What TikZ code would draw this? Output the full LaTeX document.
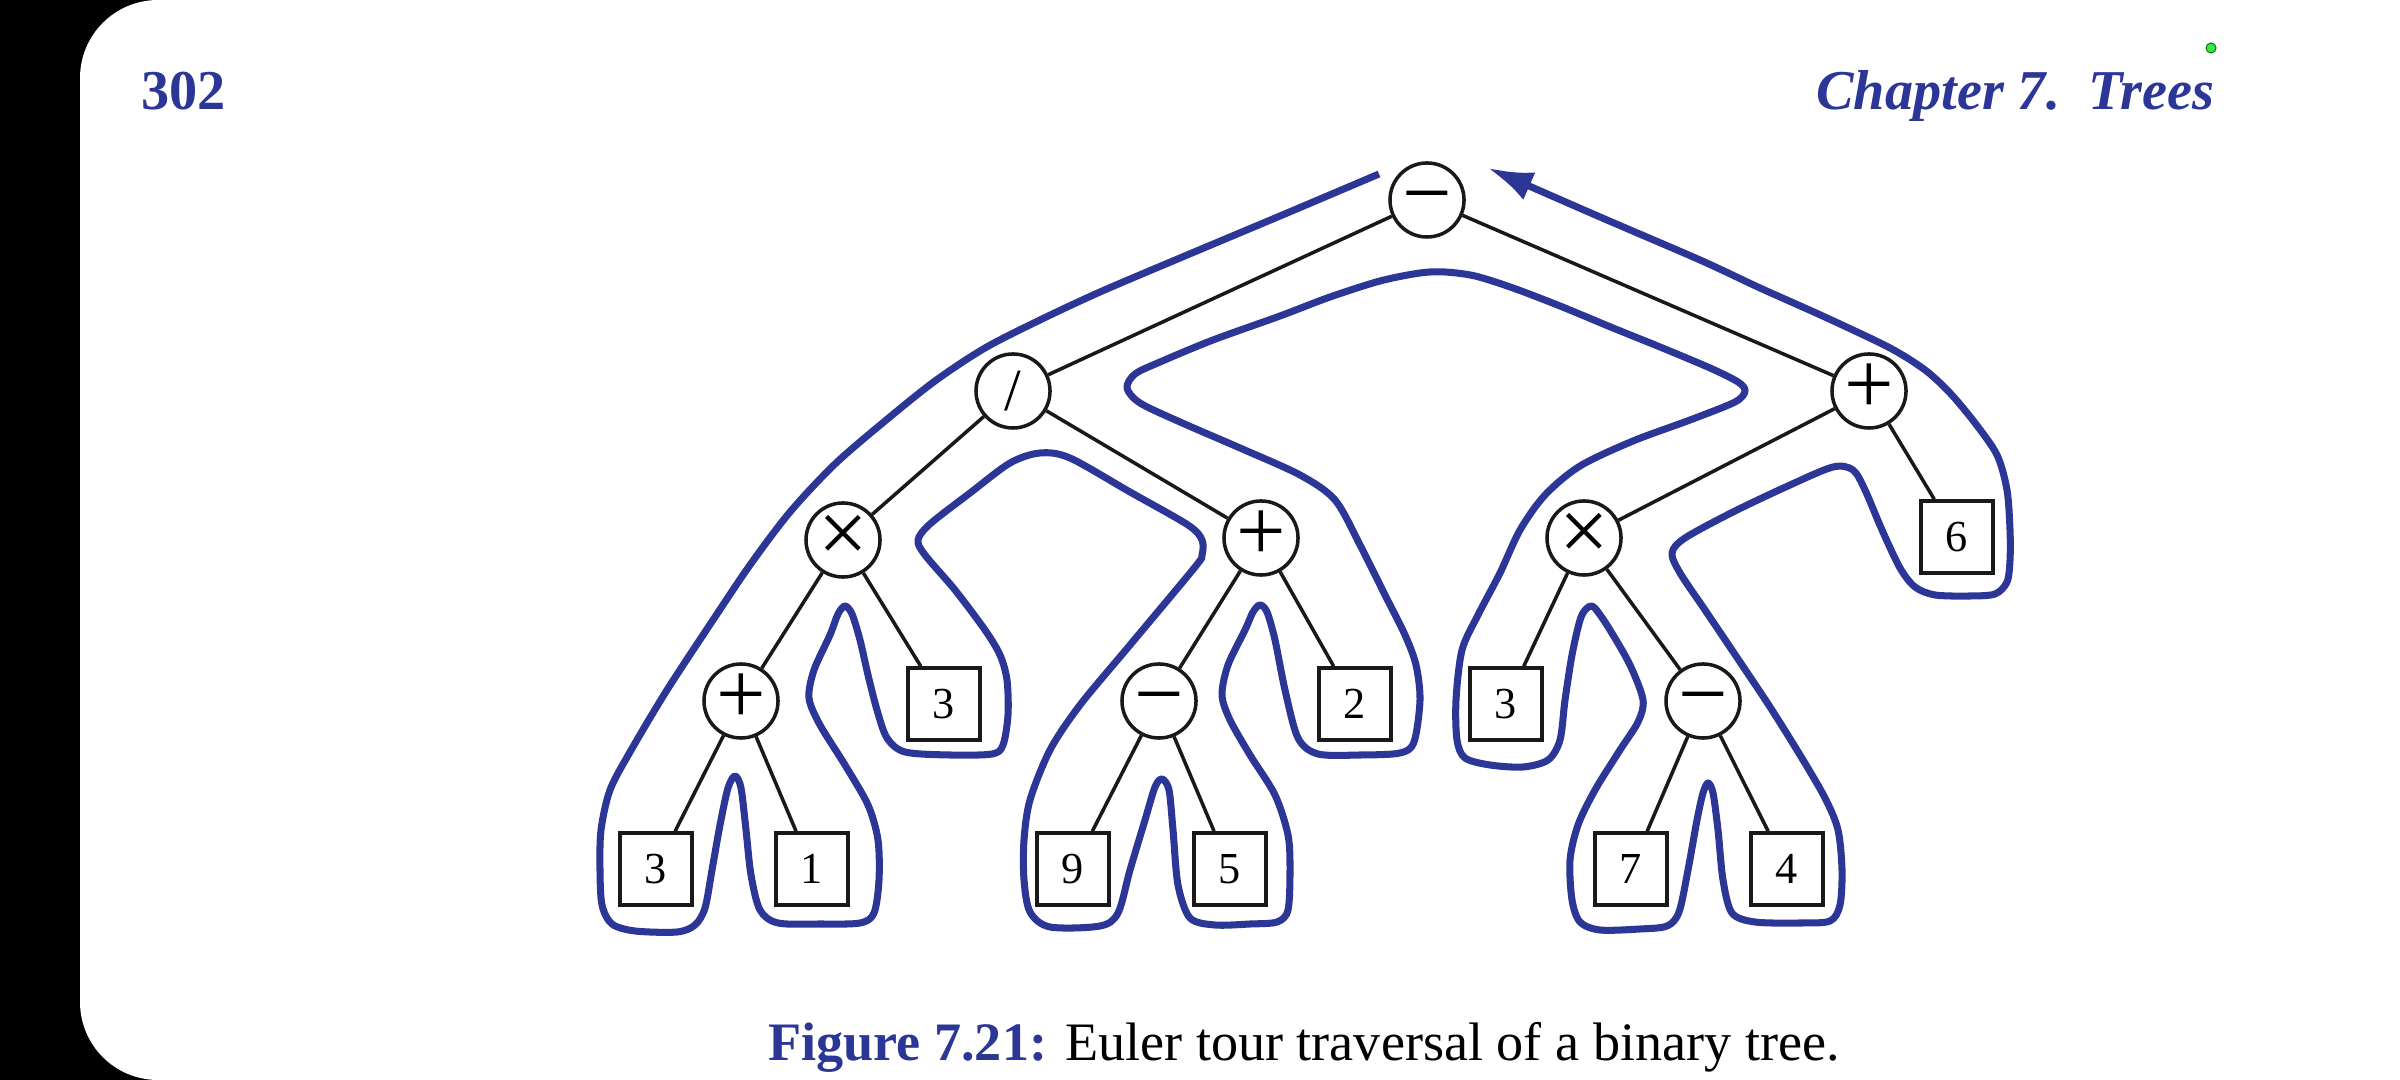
\documentclass[tikz,border=0pt]{standalone}
\usepackage{fontspec}
\setmainfont{Liberation Serif}
\usetikzlibrary{arrows.meta}
\definecolor{tourblue}{RGB}{43,54,150}
\definecolor{inkblack}{RGB}{25,25,25}
\definecolor{dotgreen}{RGB}{60,230,70}
\newcommand{\opfont}{\fontsize{25}{25}\selectfont}
\newcommand{\slashfont}{\fontsize{17}{17}\selectfont}
\newcommand{\leaffont}{\fontsize{12.6}{12.6}\selectfont}
\tikzset{
  opnode/.style={circle, draw=inkblack, fill=white, line width=1pt,
    minimum size=0.74cm, inner sep=0pt, font=\opfont,
    text height=12.6pt, text depth=0pt},
  slashnode/.style={opnode, font=\slashfont, text height=11.2pt},
  leafnode/.style={rectangle, draw=inkblack, fill=white, line width=1pt,
    minimum size=0.72cm, inner sep=0pt, font=\leaffont,
    text height=8.5pt, text depth=0pt},
  branch/.style={line width=1pt, color=inkblack},
  tour/.style={line width=2pt, color=tourblue, line join=round},
  hdr/.style={font=\fontsize{16}{16}\selectfont\bfseries, text=tourblue, inner sep=0pt}
}

\begin{document}
\begin{tikzpicture}[x=0.01cm, y=-0.01cm]
  % Page frame
  \useasboundingbox (0,0) rectangle (2400,1080);
  \fill[black] (0,0) rectangle (2400,1080);
  \fill[white, rounded corners=0.78cm] (2500,0) -- (80,0) -- (80,1080) -- (2500,1080) -- cycle;

  % Running head
  \node[hdr, anchor=base west] (pageno) at (141,110) {302};
  \node[hdr, anchor=base east] (chapter) at (2215,110) {\itshape Chapter 7.\ \ Trees};
  \fill[dotgreen, draw=green!50!black, line width=0.3pt] (2211,48) circle (5);

  % Tree nodes
  \node[opnode] (nroot) at (1427,200) {−};
  \node[slashnode] (ndiv) at (1013,391) {/};
  \node[opnode] (nplusR) at (1869,391) {+};
  \node[opnode] (ntimesL) at (843,540) {×};
  \node[opnode] (nplusM) at (1261,538) {+};
  \node[opnode] (ntimesR) at (1584,538) {×};
  \node[leafnode] (nsix) at (1957,537) {6};
  \node[opnode] (nplusL) at (741,701) {+};
  \node[leafnode] (nthreeA) at (944,704) {3};
  \node[opnode] (nminusM) at (1159,701) {−};
  \node[leafnode] (ntwo) at (1355,704) {2};
  \node[leafnode] (nthreeB) at (1506,704) {3};
  \node[opnode] (nminusR) at (1703,701) {−};
  \node[leafnode] (nthreeC) at (656,869) {3};
  \node[leafnode] (none) at (812,869) {1};
  \node[leafnode] (nnine) at (1073,869) {9};
  \node[leafnode] (nfive) at (1230,869) {5};
  \node[leafnode] (nseven) at (1631,869) {7};
  \node[leafnode] (nfour) at (1787,869) {4};

  % Branches
  \draw[branch] (nroot) -- (ndiv);
  \draw[branch] (nroot) -- (nplusR);
  \draw[branch] (ndiv) -- (ntimesL);
  \draw[branch] (ndiv) -- (nplusM);
  \draw[branch] (nplusR) -- (ntimesR);
  \draw[branch] (nplusR) -- (nsix);
  \draw[branch] (ntimesL) -- (nplusL);
  \draw[branch] (ntimesL) -- (nthreeA);
  \draw[branch] (nplusM) -- (nminusM);
  \draw[branch] (nplusM) -- (ntwo);
  \draw[branch] (ntimesR) -- (nthreeB);
  \draw[branch] (ntimesR) -- (nminusR);
  \draw[branch] (nplusL) -- (nthreeC);
  \draw[branch] (nplusL) -- (none);
  \draw[branch] (nminusM) -- (nnine);
  \draw[branch] (nminusM) -- (nfive);
  \draw[branch] (nminusR) -- (nseven);
  \draw[branch] (nminusR) -- (nfour);

  % Euler tour
  \draw[tour, -{Latex[length=0.45cm, width=0.3cm]}] plot[smooth, tension=0.5] coordinates {
    (1379,174) (1280,216) (1180,258) (1100,292) (1040,320) (985,348)
    (935,381) (885,421) (835,464) (790,512) (750,565) (713,620) (667,690)
    (630,752) (610,790) (601,830) (600,870) (602,905) (612,924) (635,931)
    (677,932) (695,925) (705,908) (712,870) (720,825) (728,788) (735,776)
    (741,788) (746,830) (751,875) (760,910) (778,923) (820,924) (860,923)
    (874,913) (879,880) (878,840) (868,805) (845,765) (820,725) (809,698)
    (814,670) (830,635) (838,614) (845,606) (852,614) (860,640) (868,675)
    (877,710) (887,738) (905,752) (950,755) (992,754) (1003,745) (1008,715)
    (1007,680) (1000,655) (985,630) (955,590) (925,555) (918,540) (930,524)
    (970,493) (1010,463) (1040,453) (1070,458) (1130,492) (1188,525)
    (1202,540) (1202,555) (1195,567) (1130,645) (1080,705) (1050,750)
    (1030,800) (1024,840) (1024,880) (1030,912) (1050,927) (1100,926)
    (1118,913) (1130,870) (1145,820) (1155,787) (1162,779) (1169,790)
    (1173,830) (1178,885) (1190,918) (1215,925) (1250,924) (1277,922)
    (1288,910) (1290,870) (1288,835) (1275,795) (1250,755) (1230,720)
    (1222,695) (1228,665) (1245,630) (1253,612) (1260,605) (1267,612)
    (1275,640) (1285,690) (1298,738) (1318,754) (1360,755) (1400,753)
    (1414,742) (1420,700) (1416,665) (1405,635) (1385,595) (1360,545)
    (1335,500) (1300,475) (1240,448) (1180,422) (1140,403) (1127,388)
    (1135,374) (1160,362) (1213,340) (1280,316) (1330,297) (1380,281)
    (1420,273) (1445,272) (1475,276) (1513,288) (1560,306) (1613,328)
    (1660,347) (1710,368) (1738,382) (1745,391) (1735,402) (1690,420)
    (1633,441) (1580,466) (1545,495) (1520,530) (1500,573) (1478,615)
    (1462,650) (1456,700) (1457,740) (1465,758) (1490,765) (1523,767)
    (1548,760) (1560,740) (1565,700) (1572,655) (1580,620) (1586,609)
    (1592,606) (1598,612) (1610,630) (1630,665) (1643,700) (1638,722)
    (1620,750) (1595,790) (1578,825) (1570,860) (1572,900) (1580,922)
    (1600,930) (1640,929) (1667,926) (1679,912) (1688,870) (1697,820)
    (1703,793) (1708,783) (1713,793) (1718,830) (1723,880) (1732,913)
    (1755,922) (1800,923) (1830,921) (1840,905) (1842,870) (1838,830)
    (1825,798) (1800,755) (1770,707) (1740,662) (1705,610) (1680,573)
    (1672,553) (1685,538) (1733,512) (1790,485) (1833,467) (1853,470)
    (1865,490) (1882,530) (1900,568) (1915,587) (1935,595) (1970,596)
    (1995,594) (2007,582) (2010,560) (2010,530) (2007,490) (1997,455)
    (1975,423) (1950,393) (1925,370) (1890,348) (1827,318) (1760,288)
    (1700,260) (1600,217) (1488,168)};

  % Caption
  \node[inner sep=0pt, anchor=base, font=\fontsize{15.4}{15.4}\selectfont] (caption) at (1304,1060)
    {\textcolor{tourblue}{\bfseries Figure 7.21:} Euler tour traversal of a binary tree.};
\end{tikzpicture}
\end{document}
